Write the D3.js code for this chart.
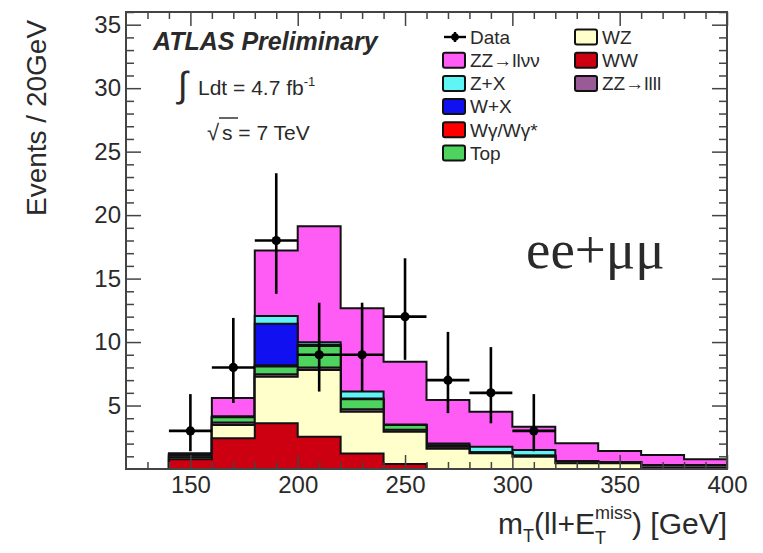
<!DOCTYPE html>
<html>
<head>
<meta charset="utf-8">
<script src="https://cdn.jsdelivr.net/npm/d3@7"></script>
<style>
  html, body { margin: 0; padding: 0; background: #fff; }
  svg { display: block; }
  text { fill: #2a2a2a; }
</style>
</head>
<body>
<svg id="chart" width="763" height="553"></svg>
<script>
// Lower edges of the 20 GeV bins of the transverse-mass distribution
const binLow = [140, 160, 180, 200, 220, 240, 260, 280, 300, 320, 340, 360, 380];
const binWidth = 20;

// Expected events per bin for each background / signal process
const ww      = [0.76, 2.42, 3.60, 2.55, 1.23, 0.40, 0, 0, 0, 0, 0, 0, 0];
const wz      = [0.14, 1.04, 3.67, 5.25, 3.28, 2.54, 1.60, 1.24, 0.97, 0.45, 0.45, 0.10, 0.10];
const zz4l    = [0.15, 0.20, 0.20, 0.20, 0.20, 0.16, 0.16, 0.06, 0.08, 0.15, 0.10, 0.20, 0.20];
const topBkg  = [0.10, 0.42, 0.61, 1.69, 0.79, 0.36, 0.09, 0, 0, 0, 0, 0, 0];
const wgamma  = [0, 0, 0.10, 0.05, 0.01, 0, 0, 0, 0, 0, 0, 0, 0];
const wjets   = [0, 0, 3.27, 0.05, 0.05, 0, 0, 0, 0, 0, 0, 0, 0];
const zjets   = [0, 0.08, 0.60, 0.20, 0.54, 0.04, 0.15, 0.46, 0.45, 0, 0, 0, 0];
const zz2l2nu = [0.10, 1.44, 5.17, 9.13, 6.56, 4.95, 3.43, 2.75, 1.83, 1.42, 0.87, 0.80, 0.46];

// Observed events (bin centres) with asymmetric Poisson errors
const dataX  = [150, 170, 190, 210, 230, 250, 270, 290, 310];
const dataN  = [3, 8, 18, 9, 9, 12, 7, 6, 3];
const dataUp = [2.9, 3.9, 5.3, 4.1, 4.1, 4.6, 3.8, 3.6, 2.9];
const dataDn = [1.6, 2.8, 4.2, 2.9, 2.9, 3.4, 2.6, 2.4, 1.6];

// Axis ticks
const xMajor = [150, 200, 250, 300, 350, 400];
const xMinor = [130, 140, 160, 170, 180, 190, 210, 220, 230, 240, 260, 270, 280, 290, 310, 320, 330, 340, 360, 370, 380, 390];
const yMajor = [5, 10, 15, 20, 25, 30, 35];
const yMinor = [1, 2, 3, 4, 6, 7, 8, 9, 11, 12, 13, 14, 16, 17, 18, 19, 21, 22, 23, 24, 26, 27, 28, 29, 31, 32, 33, 34, 36];

// Stack order, bottom to top
const processes = [
  { key: "ww",      values: ww,      label: "WW",            color: "#cc0010" },
  { key: "wz",      values: wz,      label: "WZ",            color: "#ffffcc" },
  { key: "zz4l",    values: zz4l,    label: "ZZ\u2192llll",  color: "#9a5a96" },
  { key: "top",     values: topBkg,  label: "Top",           color: "#4fd35f" },
  { key: "wgamma",  values: wgamma,  label: "W\u03b3/W\u03b3*", color: "#ff0000" },
  { key: "wjets",   values: wjets,   label: "W+X",           color: "#1010f0" },
  { key: "zjets",   values: zjets,   label: "Z+X",           color: "#5ff5f5" },
  { key: "zz2l2nu", values: zz2l2nu, label: "ZZ\u2192ll\u03bd\u03bd", color: "#ff5cf6" }
];

const sans = "'Liberation Sans', Arial, sans-serif";
const svg = d3.select("#chart").style("font-family", sans);
const frame = { left: 126, right: 727, top: 12, bottom: 469 };

const x = d3.scaleLinear().domain([120, 400]).range([frame.left, frame.right]);
const y = d3.scaleLinear().domain([0, 36]).range([frame.bottom, frame.top]);

// Build rows for d3.stack
const rows = binLow.map((lo, i) => {
  const r = { lo };
  processes.forEach(p => { r[p.key] = p.values[i]; });
  return r;
});
const stacked = d3.stack().keys(processes.map(p => p.key))(rows);

// Stepped outline of a cumulative histogram, closed down to zero
const line = d3.line().x(d => x(d[0])).y(d => y(d[1]));
function histPath(layer) {
  const pts = [[binLow[0], 0]];
  layer.forEach((d, i) => {
    pts.push([binLow[i], d[1]]);
    pts.push([binLow[i] + binWidth, d[1]]);
  });
  pts.push([binLow[binLow.length - 1] + binWidth, 0]);
  return line(pts) + "Z";
}

// Draw filled histograms from the top of the stack downward
const hists = svg.append("g");
[...stacked].reverse().forEach((layer, j) => {
  const p = processes[processes.length - 1 - j];
  hists.append("path")
    .attr("d", histPath(layer))
    .attr("fill", p.color)
    .attr("stroke", "#111")
    .attr("stroke-width", 2)
    .attr("stroke-linejoin", "miter");
});

// Data points with error bars
const dataG = svg.append("g");
dataX.forEach((cx, i) => {
  dataG.append("line")
    .attr("x1", x(cx - binWidth / 2)).attr("x2", x(cx + binWidth / 2))
    .attr("y1", y(dataN[i])).attr("y2", y(dataN[i]))
    .attr("stroke", "#000").attr("stroke-width", 2.6);
  dataG.append("line")
    .attr("x1", x(cx)).attr("x2", x(cx))
    .attr("y1", y(dataN[i] + dataUp[i])).attr("y2", y(dataN[i] - dataDn[i]))
    .attr("stroke", "#000").attr("stroke-width", 2.6);
  dataG.append("circle")
    .attr("cx", x(cx)).attr("cy", y(dataN[i])).attr("r", 4.6)
    .attr("fill", "#000");
});

// Frame and inward ticks on all four sides
const axisColor = "#444";
function styleAxis(g) {
  g.select(".domain").remove();
  g.selectAll(".tick line").attr("stroke", axisColor).attr("stroke-width", 1.5);
}
function styleLabels(g) {
  g.selectAll("text").attr("font-size", 24).attr("fill", "#333").attr("font-family", sans);
}
svg.append("g").attr("transform", `translate(0,${frame.bottom})`)
  .call(d3.axisBottom(x).tickValues(xMajor).tickSize(-14).tickPadding(7).tickFormat(d3.format("d")))
  .call(styleAxis).call(styleLabels);
svg.append("g").attr("transform", `translate(0,${frame.bottom})`)
  .call(d3.axisBottom(x).tickValues(xMinor).tickSize(-7).tickFormat(""))
  .call(styleAxis);
svg.append("g").attr("transform", `translate(0,${frame.top})`)
  .call(d3.axisTop(x).tickValues(xMajor).tickSize(-14).tickFormat(""))
  .call(styleAxis);
svg.append("g").attr("transform", `translate(0,${frame.top})`)
  .call(d3.axisTop(x).tickValues(xMinor).tickSize(-7).tickFormat(""))
  .call(styleAxis);

svg.append("g").attr("transform", `translate(${frame.left},0)`)
  .call(d3.axisLeft(y).tickValues(yMajor).tickSize(-15).tickPadding(5).tickFormat(d3.format("d")))
  .call(styleAxis).call(styleLabels);
svg.append("g").attr("transform", `translate(${frame.left},0)`)
  .call(d3.axisLeft(y).tickValues(yMinor).tickSize(-8).tickFormat(""))
  .call(styleAxis);
svg.append("g").attr("transform", `translate(${frame.right},0)`)
  .call(d3.axisRight(y).tickValues(yMajor).tickSize(-15).tickFormat(""))
  .call(styleAxis);
svg.append("g").attr("transform", `translate(${frame.right},0)`)
  .call(d3.axisRight(y).tickValues(yMinor).tickSize(-8).tickFormat(""))
  .call(styleAxis);

svg.append("rect")
  .attr("x", frame.left).attr("y", frame.top)
  .attr("width", frame.right - frame.left).attr("height", frame.bottom - frame.top)
  .attr("fill", "none").attr("stroke", axisColor).attr("stroke-width", 2);

// Axis titles
svg.append("text")
  .attr("transform", `translate(46,118) rotate(-90)`)
  .attr("text-anchor", "middle")
  .attr("font-size", 28)
  .attr("fill", "#333")
  .text("Events / 20GeV");

// x title: m_T(ll+E_T^miss) [GeV], right-aligned to the frame
(function () {
  const g = svg.append("g");
  const base = 534, fs = 30, small = 18;
  let cx = 0;
  function put(str, size, dy) {
    const t = g.append("text").attr("x", cx).attr("y", base + dy)
      .attr("font-size", size).attr("fill", "#333").text(str);
    return t.node().getComputedTextLength();
  }
  cx += put("m", fs, 0);
  cx += put("T", small, 8);
  cx += put("(ll+E", fs, 0);
  const supW = put("miss", small, -15);
  put("T", small, 10);
  cx += supW;
  cx += put(") [GeV]", fs, 0);
  g.attr("transform", `translate(${frame.right - cx},0)`);
})();

// Experiment labels
svg.append("text")
  .attr("x", 153).attr("y", 50)
  .attr("font-size", 25).attr("font-weight", "bold").attr("font-style", "italic")
  .attr("fill", "#222")
  .text("ATLAS Preliminary");

svg.append("text").attr("x", 178).attr("y", 97).attr("font-size", 36)
  .attr("fill", "#333").text("\u222b");
const lumi = svg.append("text").attr("x", 198).attr("y", 95).attr("font-size", 21).attr("fill", "#333");
lumi.append("tspan").text("Ldt = 4.7 fb");
lumi.append("tspan").attr("dy", -9).attr("font-size", 13).text("-1");

svg.append("text").attr("x", 207).attr("y", 140).attr("font-size", 22)
  .attr("fill", "#333").text("\u221a");
svg.append("line").attr("x1", 219).attr("x2", 238).attr("y1", 118).attr("y2", 118)
  .attr("stroke", "#333").attr("stroke-width", 1.5);
svg.append("text").attr("x", 222).attr("y", 140).attr("font-size", 21)
  .attr("fill", "#333").text("s = 7 TeV");

svg.append("text")
  .attr("x", 526).attr("y", 268)
  .style("font-family", "'Liberation Serif', 'Times New Roman', serif")
  .attr("font-size", 55).attr("fill", "#111")
  .text("ee+\u03bc\u03bc");

// Legend
const legendFont = 19;
const rowH = 23.2;
const leg = svg.append("g");
const col1 = [null, "zz2l2nu", "zjets", "wjets", "wgamma", "top"];
const col2 = ["wz", "ww", "zz4l"];
function legendBox(bx, cy, key) {
  const p = processes.find(q => q.key === key);
  leg.append("rect").attr("x", bx).attr("y", cy - 7.5).attr("width", 22).attr("height", 15)
    .attr("rx", 2).attr("fill", p.color).attr("stroke", "#111").attr("stroke-width", 2);
  leg.append("text").attr("x", bx + 27).attr("y", cy).attr("dy", "0.36em")
    .attr("font-size", legendFont).attr("fill", "#333").text(p.label);
}
col1.forEach((key, i) => {
  const cy = 37 + i * rowH;
  if (key === null) {
    leg.append("line").attr("x1", 444).attr("x2", 466).attr("y1", cy).attr("y2", cy)
      .attr("stroke", "#000").attr("stroke-width", 2.4);
    leg.append("line").attr("x1", 455).attr("x2", 455).attr("y1", cy - 5).attr("y2", cy + 5)
      .attr("stroke", "#000").attr("stroke-width", 2.4);
    leg.append("circle").attr("cx", 455).attr("cy", cy).attr("r", 3.8).attr("fill", "#000");
    leg.append("text").attr("x", 470).attr("y", cy).attr("dy", "0.36em")
      .attr("font-size", legendFont).attr("fill", "#333").text("Data");
  } else {
    legendBox(443, cy, key);
  }
});
col2.forEach((key, i) => legendBox(575, 37 + i * rowH, key));
</script>
</body>
</html>
